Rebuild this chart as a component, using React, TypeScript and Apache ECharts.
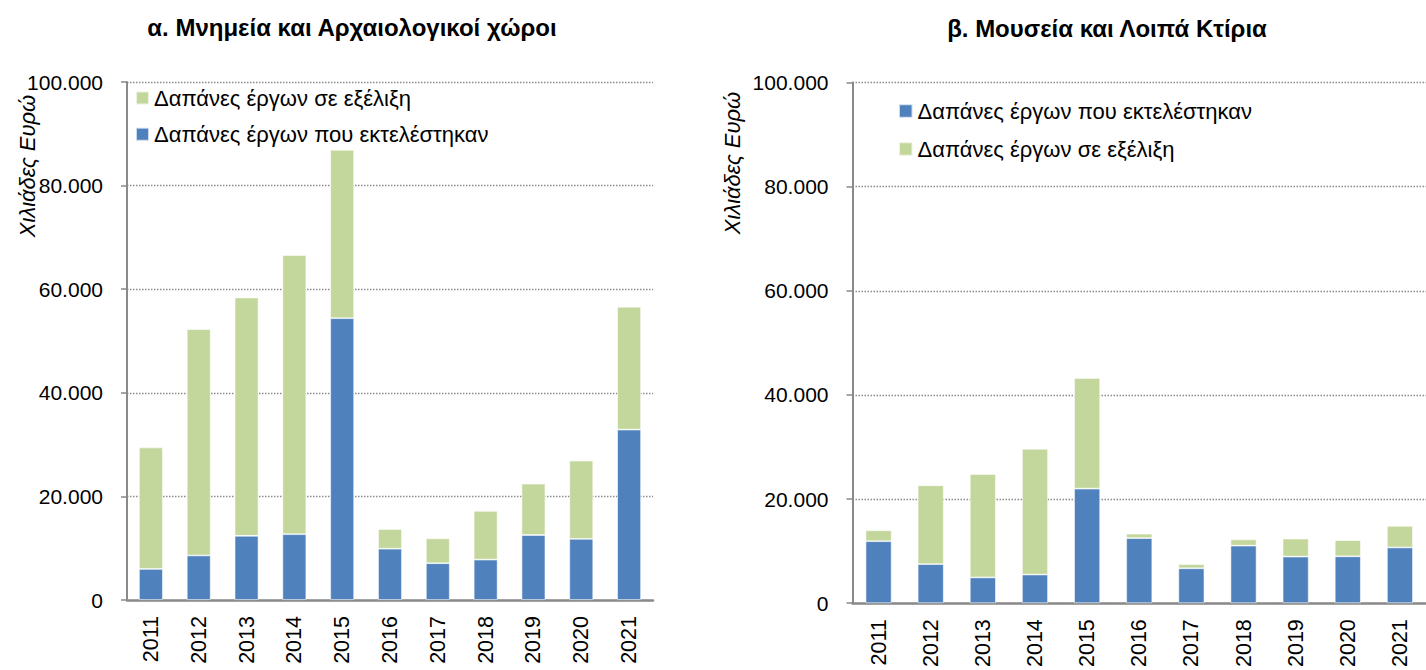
import React, { useEffect, useRef } from "react";
import * as echarts from "echarts";

const years = ["2011", "2012", "2013", "2014", "2015", "2016", "2017", "2018", "2019", "2020", "2021"];

const leftExecuted = [6000, 8600, 12400, 12700, 54400, 9900, 7100, 7800, 12550, 11800, 32900];
const leftInProgress = [23450, 43700, 46000, 53900, 32500, 3800, 4800, 9400, 9900, 15100, 23700];

const rightExecuted = [11900, 7500, 4950, 5500, 22000, 12500, 6700, 11050, 8950, 9000, 10700];
const rightInProgress = [2100, 15150, 19850, 24150, 21250, 850, 800, 1200, 3450, 3100, 4150];

const nameExecuted = "Δαπάνες έργων που εκτελέστηκαν";
const nameInProgress = "Δαπάνες έργων σε εξέλιξη";
const leftTitle = "α. Μνημεία και Αρχαιολογικοί χώροι";
const rightTitle = "β. Μουσεία και Λοιπά Κτίρια";
const yAxisName = "Χιλιάδες Ευρώ";

const BLUE = "#4F81BD";
const GREEN = "#C3D69B";
const FONT = "Liberation Sans";

const fmt = (v: number) => String(v).replace(/\B(?=(\d{3})+(?!\d))/g, ".");

export default function App() {
  const ref = useRef<HTMLDivElement>(null);
  useEffect(() => {
    if (!ref.current) return;
    const chart = echarts.init(ref.current, undefined, { renderer: "svg" });
    const axisColor = "#8a8a8a";
    const yAxisBase = {
      type: "value",
      min: 0,
      max: 100000,
      interval: 20000,
      axisLine: { show: true, lineStyle: { color: axisColor, width: 2 } },
      axisTick: { show: true, length: 6, lineStyle: { color: axisColor, width: 1.5 } },
      axisLabel: { formatter: fmt, color: "#000", fontFamily: FONT, fontSize: 21, margin: 24 },
      splitLine: { show: true, lineStyle: { color: "#8c8c8c", width: 1.3, type: [1.5, 1.5] } },
    };
    const xAxisBase = {
      type: "category",
      data: years,
      axisLine: { show: true, lineStyle: { color: axisColor, width: 2.5 } },
      axisTick: { show: false },
      axisLabel: { rotate: 90, color: "#000", fontFamily: FONT, fontSize: 21.5, margin: 16, interval: 0 },
    };
    const barBase = {
      type: "bar",
      barWidth: "50%",
      itemStyle: { borderColor: "rgba(255,255,255,0.7)", borderWidth: 0.8 },
    };
    const legendText = { fontFamily: FONT, fontSize: 22, color: "#000", lineHeight: 20 };
    const titleText = { fontFamily: FONT, fontWeight: "bold", fontSize: 24, color: "#000" };
    const yNameStyle = { text: yAxisName, fontFamily: FONT, fontStyle: "italic", fontSize: 22, fill: "#000", align: "center", verticalAlign: "middle" };
    chart.setOption({
      animation: false,
      title: [
        { text: leftTitle, left: 352, top: 15, padding: 0, textAlign: "center", textStyle: titleText },
        { text: rightTitle, left: 1107, top: 16, padding: 0, textAlign: "center", textStyle: titleText },
      ],
      legend: [
        {
          orient: "vertical",
          left: 135,
          top: 87,
          padding: 0,
          itemWidth: 13,
          itemHeight: 13,
          itemGap: 14.3,
          icon: "rect",
          data: [nameInProgress, nameExecuted],
          textStyle: legendText,
        },
        {
          orient: "vertical",
          left: 898,
          top: 100,
          padding: 0,
          itemWidth: 13.5,
          itemHeight: 13.5,
          itemGap: 16,
          icon: "rect",
          data: [nameExecuted, nameInProgress],
          textStyle: legendText,
        },
      ],
      grid: [
        { left: 127, top: 82, width: 526, height: 518 },
        { left: 852.5, top: 82.5, width: 576.6, height: 525 },
      ],
      xAxis: [
        { ...xAxisBase, gridIndex: 0 },
        { ...xAxisBase, gridIndex: 1 },
      ],
      yAxis: [
        { ...yAxisBase, gridIndex: 0 },
        { ...yAxisBase, gridIndex: 1 },
      ],
      graphic: [
        { type: "text", x: 27, y: 166, rotation: Math.PI / 2, style: yNameStyle },
        { type: "text", x: 732, y: 163, rotation: Math.PI / 2, style: yNameStyle },
      ],
      series: [
        { ...barBase, name: nameExecuted, stack: "left", xAxisIndex: 0, yAxisIndex: 0, data: leftExecuted, itemStyle: { ...barBase.itemStyle, color: BLUE } },
        { ...barBase, name: nameInProgress, stack: "left", xAxisIndex: 0, yAxisIndex: 0, data: leftInProgress, itemStyle: { ...barBase.itemStyle, color: GREEN } },
        { ...barBase, name: nameExecuted, stack: "right", xAxisIndex: 1, yAxisIndex: 1, data: rightExecuted, itemStyle: { ...barBase.itemStyle, color: BLUE } },
        { ...barBase, name: nameInProgress, stack: "right", xAxisIndex: 1, yAxisIndex: 1, data: rightInProgress, itemStyle: { ...barBase.itemStyle, color: GREEN } },
      ],
    });
    return () => chart.dispose();
  }, []);
  return <div ref={ref} style={{ position: "absolute", left: 0, top: 0, width: 1426, height: 670 }} />;
}
